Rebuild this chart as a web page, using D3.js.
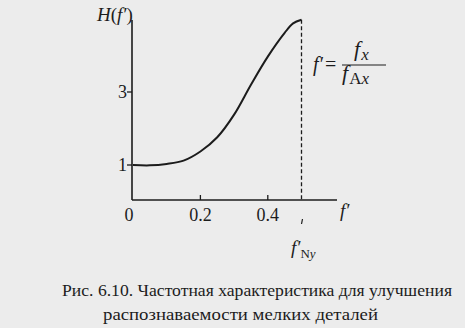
<!DOCTYPE html>
<html>
<head>
<meta charset="utf-8">
<script src="https://cdn.jsdelivr.net/npm/d3@7"></script>
<style>
  body { margin: 0; background: #ececec; }
  svg { display: block; }
  text { font-family: "Liberation Serif", "Times New Roman", Times, "DejaVu Serif", serif; fill: #1c1c1c; }
</style>
</head>
<body>
<script>

// data
const freq = [0, 0.05, 0.1, 0.15, 0.2, 0.25, 0.3, 0.35, 0.4, 0.45, 0.475, 0.5];
const gain = [1.0, 0.99, 1.03, 1.12, 1.37, 1.76, 2.38, 3.2, 3.97, 4.62, 4.88, 4.98];
const x_ticks = [0, 0.2, 0.4];
const x_tick_labels = ["0", "0.2", "0.4"];
const y_ticks = [1, 3];
const nyquist = 0.5;
const caption_lines = [
    "Рис. 6.10. Частотная характеристика для улучшения",
    "распознаваемости мелких деталей"
];

const WIDTH = 465, HEIGHT = 328;
const INK = "#1c1c1c";

const svg = d3.select("body").append("svg")
    .attr("width", WIDTH)
    .attr("height", HEIGHT);

const x = d3.scaleLinear().domain([0, 0.5]).range([133, 301.5]);
const y = d3.scaleLinear().domain([0, 5]).range([201.5, 19]);

const axis_y0 = 200;   // x axis sits a touch above H=0
const axis_x0 = 132;

// axes lines
svg.append("line")
    .attr("x1", axis_x0).attr("x2", axis_x0)
    .attr("y1", 20).attr("y2", axis_y0)
    .attr("stroke", INK).attr("stroke-width", 1.6);
svg.append("line")
    .attr("x1", axis_x0).attr("x2", 337)
    .attr("y1", axis_y0).attr("y2", axis_y0)
    .attr("stroke", INK).attr("stroke-width", 1.6);

// x ticks point up, y ticks point left
svg.selectAll("line.xtick")
    .data(x_ticks.filter(d => d > 0))
    .enter().append("line")
    .attr("class", "xtick")
    .attr("x1", d => x(d)).attr("x2", d => x(d))
    .attr("y1", axis_y0).attr("y2", axis_y0 - 5)
    .attr("stroke", INK).attr("stroke-width", 1.3);

svg.selectAll("text.xlab")
    .data(x_ticks)
    .enter().append("text")
    .attr("class", "xlab")
    .attr("x", (d, i) => i === 0 ? 129 : x(d))
    .attr("y", 221)
    .attr("text-anchor", "middle")
    .style("font-size", "18px")
    .text((d, i) => x_tick_labels[i]);

svg.selectAll("line.ytick")
    .data(y_ticks)
    .enter().append("line")
    .attr("class", "ytick")
    .attr("x1", axis_x0 - 5).attr("x2", axis_x0)
    .attr("y1", d => y(d)).attr("y2", d => y(d))
    .attr("stroke", INK).attr("stroke-width", 1.3);

svg.selectAll("text.ylab")
    .data(y_ticks)
    .enter().append("text")
    .attr("class", "ylab")
    .attr("x", 127)
    .attr("y", d => y(d) + 6)
    .attr("text-anchor", "end")
    .style("font-size", "18px")
    .text(d => d);

// nyquist dashed line
svg.append("line")
    .attr("x1", x(nyquist)).attr("x2", x(nyquist))
    .attr("y1", y(gain[gain.length - 1])).attr("y2", axis_y0)
    .attr("stroke", INK).attr("stroke-width", 1.3)
    .attr("stroke-dasharray", "4,2.5");
svg.append("line")
    .attr("x1", x(nyquist) + 1).attr("x2", x(nyquist))
    .attr("y1", 219).attr("y2", 224)
    .attr("stroke", INK).attr("stroke-width", 1.2);

// curve
const line = d3.line()
    .x((d, i) => x(freq[i]))
    .y(d => y(d))
    .curve(d3.curveCatmullRom);

svg.append("path")
    .datum(gain)
    .attr("d", line)
    .attr("fill", "none")
    .attr("stroke", INK)
    .attr("stroke-width", 2);

// axis titles
const h_label = svg.append("text")
    .attr("x", 97).attr("y", 21)
    .style("font-size", "19px");
h_label.append("tspan").style("font-style", "italic").text("H");
h_label.append("tspan").text("(");
h_label.append("tspan").style("font-style", "italic").text("f′");
h_label.append("tspan").text(")");

svg.append("text")
    .attr("x", 340).attr("y", 217)
    .style("font-size", "19px")
    .style("font-style", "italic")
    .text("f′");

const ny_label = svg.append("text")
    .attr("x", 291).attr("y", 254)
    .style("font-size", "19px");
ny_label.append("tspan").style("font-style", "italic").text("f′");
ny_label.append("tspan").attr("dy", 4).style("font-size", "13px").text("N");
ny_label.append("tspan").style("font-size", "13px").style("font-style", "italic").text("y");

// formula f' = f_x / f_Ax
const formula = svg.append("g");
formula.append("text")
    .attr("x", 313).attr("y", 71)
    .style("font-size", "20px")
    .call(t => {
        t.append("tspan").style("font-style", "italic").text("f′");
        t.append("tspan").attr("dx", 2).text("=");
    });
formula.append("line")
    .attr("x1", 342).attr("x2", 386)
    .attr("y1", 65).attr("y2", 65)
    .attr("stroke", INK).attr("stroke-width", 1.2);
formula.append("text")
    .attr("x", 354).attr("y", 56)
    .style("font-size", "22px")
    .call(t => {
        t.append("tspan").style("font-style", "italic").text("f");
        t.append("tspan").attr("dx", 1).attr("dy", 4).style("font-size", "17px").style("font-style", "italic").text("x");
    });
formula.append("text")
    .attr("x", 342).attr("y", 80)
    .style("font-size", "22px")
    .call(t => {
        t.append("tspan").style("font-style", "italic").text("f");
        t.append("tspan").attr("dx", 1).attr("dy", 4).style("font-size", "17px").text("A");
        t.append("tspan").style("font-size", "17px").style("font-style", "italic").text("x");
    });

// caption: first line flush, second line indented
const caption_x = [62, 103];
const caption_w = [390, 275];
svg.selectAll("text.caption")
    .data(caption_lines)
    .enter().append("text")
    .attr("class", "caption")
    .attr("x", (d, i) => caption_x[i])
    .attr("y", (d, i) => 296 + i * 24)
    .attr("textLength", (d, i) => caption_w[i])
    .attr("lengthAdjust", "spacingAndGlyphs")
    .style("font-size", "17px")
    .text(d => d);

</script>
</body>
</html>
